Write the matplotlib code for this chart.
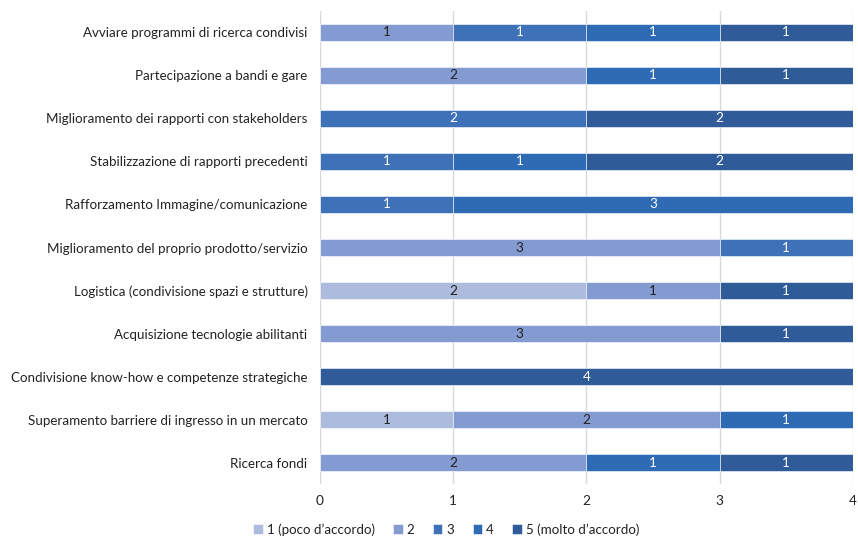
import matplotlib
matplotlib.use("Agg")
import matplotlib.pyplot as plt
import numpy as np

plt.rcParams['font.family'] = ['Lato', 'DejaVu Sans']

categories = [
    "Avviare programmi di ricerca condivisi",
    "Partecipazione a bandi e gare",
    "Miglioramento dei rapporti con stakeholders",
    "Stabilizzazione di rapporti precedenti",
    "Rafforzamento Immagine/comunicazione",
    "Miglioramento del proprio prodotto/servizio",
    "Logistica (condivisione spazi e strutture)",
    "Acquisizione tecnologie abilitanti",
    "Condivisione know-how e competenze strategiche",
    "Superamento barriere di ingresso in un mercato",
    "Ricerca fondi",
]
series_names = ["1 (poco d\u2019accordo)", "2", "3", "4", "5 (molto d\u2019accordo)"]
s1 = [0, 0, 0, 0, 0, 0, 2, 0, 0, 1, 0]
s2 = [1, 2, 0, 0, 0, 3, 1, 3, 0, 2, 2]
s3 = [1, 0, 2, 1, 1, 1, 0, 0, 0, 0, 0]
s4 = [1, 1, 0, 1, 3, 0, 0, 0, 0, 1, 1]
s5 = [1, 1, 2, 2, 0, 0, 1, 1, 4, 0, 1]

colors = ["#adbcdc", "#839bd1", "#3f71b9", "#2f6ab5", "#2f5b98"]
text_colors = ["#222222", "#222222", "white", "white", "white"]

fig = plt.figure(figsize=(8.58, 5.37), dpi=100)
ax = fig.add_axes([0.373, 0.098, 0.621, 0.882])

y = np.arange(len(categories))
left = np.zeros(len(categories))
for name, vals, c, tc in zip(series_names, [s1, s2, s3, s4, s5], colors, text_colors):
    vals = np.array(vals, dtype=float)
    bars = ax.barh(y, vals, left=left, height=0.4, color=c, label=name,
                   edgecolor="#ffffff", linewidth=0.4, zorder=3)
    labels = [str(int(v)) if v > 0 else "" for v in vals]
    ax.bar_label(bars, labels=labels, label_type="center", color=tc, fontsize=9.8)
    left += vals

ax.set_xlim(0, 4)
ax.set_ylim(len(categories) - 0.5, -0.5)
ax.set_yticks(y)
ax.set_yticklabels(categories, fontsize=9.6, color="#222222")
ax.set_xticks([0, 1, 2, 3, 4])
ax.tick_params(axis="x", labelsize=9.8, colors="#222222", length=0, pad=8)
ax.tick_params(axis="y", length=0, pad=9)
ax.grid(axis="x", color="#d9d9d9", linewidth=1, zorder=0)
for s in ax.spines.values():
    s.set_visible(False)

fig.legend(loc="lower center", bbox_to_anchor=(0.52, -0.02), ncol=5, frameon=False,
           fontsize=9.6, handlelength=0.7, handleheight=0.7, handletextpad=0.3,
           columnspacing=1.4, labelcolor="#222222")

fig.savefig("out.png", dpi=100)
